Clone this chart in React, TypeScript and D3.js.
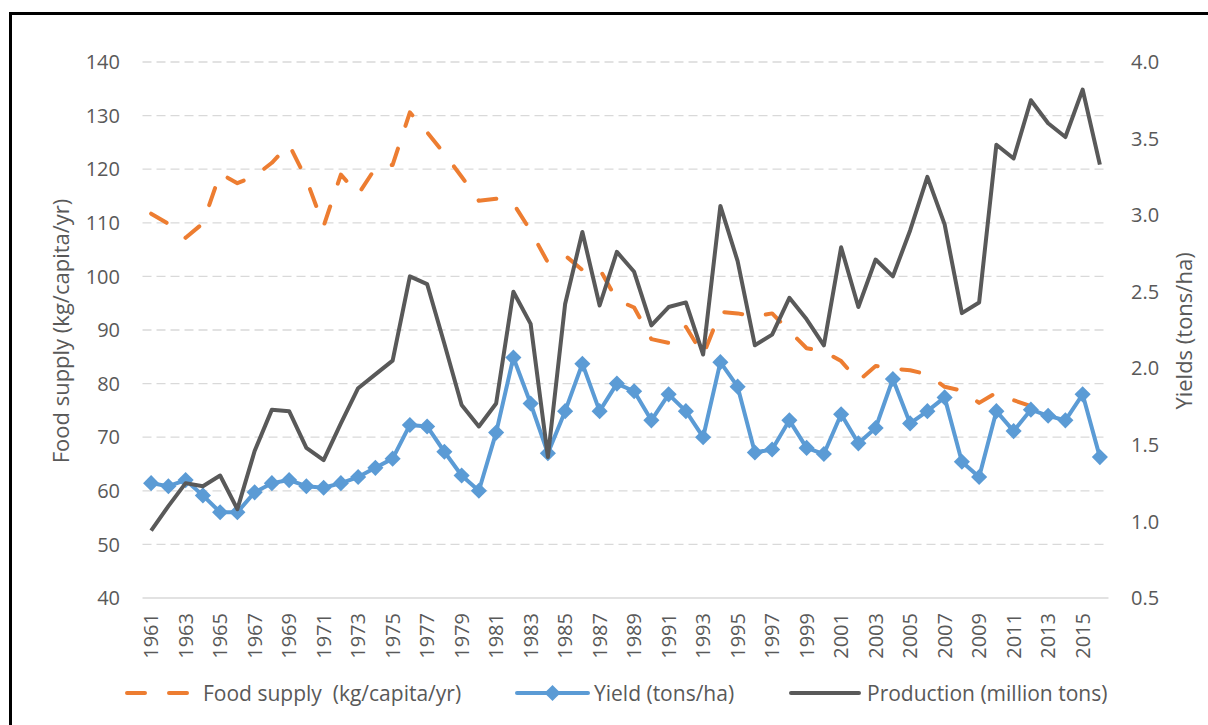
import React, { useRef, useEffect } from "react";
import * as d3 from "d3";

const years = [
  "1961", "1962", "1963", "1964", "1965", "1966", "1967", "1968", "1969", "1970",
  "1971", "1972", "1973", "1974", "1975", "1976", "1977", "1978", "1979", "1980",
  "1981", "1982", "1983", "1984", "1985", "1986", "1987", "1988", "1989", "1990",
  "1991", "1992", "1993", "1994", "1995", "1996", "1997", "1998", "1999", "2000",
  "2001", "2002", "2003", "2004", "2005", "2006", "2007", "2008", "2009", "2010",
  "2011", "2012", "2013", "2014", "2015", "2016",
];

// kg/capita/yr, left axis (reported up to 2013)
const foodSupply = [
  111.7, 109.8, 107.2, 109.9, 119.2, 117.4, 118.7, 121.2, 124.6, 118.1,
  109.4, 119.0, 115.3, 120.2, 120.8, 130.6, 126.9, 122.9, 118.6, 114.1,
  114.5, 113.6, 108.5, 102.6, 103.9, 101.2, 101.4, 95.6, 94.2, 88.3,
  87.6, 90.6, 85.3, 93.4, 93.1, 92.5, 93.1, 89.8, 86.6, 86.0,
  84.2, 80.5, 83.3, 82.8, 82.5, 81.7, 79.4, 78.7, 76.4, 78.3,
  76.9, 75.8, 76.2,
];

// tons/ha, right axis
const yieldTons = [
  1.25, 1.23, 1.27, 1.17, 1.06, 1.06, 1.19, 1.25, 1.27, 1.23,
  1.22, 1.25, 1.29, 1.35, 1.41, 1.63, 1.62, 1.455, 1.30, 1.20,
  1.58, 2.07, 1.77, 1.445, 1.72, 2.03, 1.72, 1.90, 1.85, 1.66,
  1.83, 1.72, 1.55, 2.04, 1.88, 1.45, 1.47, 1.66, 1.48, 1.44,
  1.70, 1.51, 1.61, 1.93, 1.64, 1.72, 1.81, 1.39, 1.29, 1.72,
  1.59, 1.73, 1.69, 1.66, 1.83, 1.42,
];

// million tons, right axis
const production = [
  0.94, 1.10, 1.25, 1.23, 1.30, 1.08, 1.46, 1.73, 1.72, 1.48,
  1.40, 1.64, 1.87, 1.96, 2.05, 2.60, 2.55, 2.16, 1.76, 1.62,
  1.77, 2.50, 2.29, 1.42, 2.42, 2.89, 2.41, 2.76, 2.63, 2.28,
  2.40, 2.43, 2.09, 3.06, 2.70, 2.15, 2.22, 2.46, 2.32, 2.15,
  2.79, 2.40, 2.71, 2.60, 2.90, 3.25, 2.94, 2.36, 2.43, 3.46,
  3.37, 3.75, 3.60, 3.51, 3.82, 3.33,
];

const leftTicks = [40, 50, 60, 70, 80, 90, 100, 110, 120, 130, 140];
const rightTicks = [0.5, 1.0, 1.5, 2.0, 2.5, 3.0, 3.5, 4.0];

const App = () => {
  const ref = useRef<SVGSVGElement>(null);

  useEffect(() => {
    const svg = d3.select(ref.current);
    svg.selectAll("*").remove();

    const width = 1208;
    const height = 725;
    const left = 142.5;
    const right = 1108.5;
    const top = 62;
    const bottom = 598;
    const textColor = "#595959";
    const font = "'Open Sans', sans-serif";

    svg.attr("width", width).attr("height", height);

    svg.append("rect")
      .attr("x", 10.5)
      .attr("y", 13.5)
      .attr("width", 1400)
      .attr("height", 900)
      .attr("fill", "white")
      .attr("stroke", "#000")
      .attr("stroke-width", 3);

    const x = d3.scalePoint().domain(years).range([left, right]).padding(0.5);
    const yLeft = d3.scaleLinear().domain([40, 140]).range([bottom, top]);
    const yRight = d3.scaleLinear().domain([0.5, 4.0]).range([bottom, top]);

    // gridlines
    svg.append("g")
      .selectAll("line")
      .data(leftTicks.filter((d) => d > 40))
      .enter()
      .append("line")
      .attr("x1", left)
      .attr("x2", right)
      .attr("y1", (d) => yLeft(d))
      .attr("y2", (d) => yLeft(d))
      .attr("stroke", "#D9D9D9")
      .attr("stroke-width", 1.3)
      .attr("stroke-dasharray", "9 5");

    svg.append("line")
      .attr("x1", left)
      .attr("x2", right)
      .attr("y1", yLeft(40))
      .attr("y2", yLeft(40))
      .attr("stroke", "#D9D9D9")
      .attr("stroke-width", 1.3);

    // left tick labels
    svg.append("g")
      .selectAll("text")
      .data(leftTicks)
      .enter()
      .append("text")
      .attr("x", 120)
      .attr("y", (d) => yLeft(d))
      .attr("dy", "0.36em")
      .attr("text-anchor", "end")
      .attr("font-family", font)
      .attr("font-size", "20px")
      .attr("fill", textColor)
      .text((d) => d);

    // right tick labels
    svg.append("g")
      .selectAll("text")
      .data(rightTicks)
      .enter()
      .append("text")
      .attr("x", 1131)
      .attr("y", (d) => yRight(d))
      .attr("dy", "0.36em")
      .attr("text-anchor", "start")
      .attr("font-family", font)
      .attr("font-size", "20px")
      .attr("fill", textColor)
      .text((d) => d.toFixed(1));

    // year labels, every other year
    svg.append("g")
      .selectAll("text")
      .data(years.filter((_, i) => i % 2 === 0))
      .enter()
      .append("text")
      .attr("transform", (d) => `translate(${x(d)}, 613) rotate(-90)`)
      .attr("dy", "0.36em")
      .attr("text-anchor", "end")
      .attr("font-family", font)
      .attr("font-size", "20px")
      .attr("fill", textColor)
      .text((d) => d);

    // axis titles
    svg.append("text")
      .attr("transform", "translate(61, 331) rotate(-90)")
      .attr("dy", "0.36em")
      .attr("text-anchor", "middle")
      .attr("font-family", font)
      .attr("font-size", "22px")
      .attr("fill", textColor)
      .text("Food supply (kg/capita/yr)");

    svg.append("text")
      .attr("transform", "translate(1184, 331) rotate(-90)")
      .attr("dy", "0.36em")
      .attr("text-anchor", "middle")
      .attr("font-family", font)
      .attr("font-size", "22px")
      .attr("fill", textColor)
      .text("Yields (tons/ha)");

    // series
    const foodLine = d3.line<number>()
      .x((_, i) => x(years[i]) as number)
      .y((d) => yLeft(d));

    const rightLine = d3.line<number>()
      .x((_, i) => x(years[i]) as number)
      .y((d) => yRight(d));

    svg.append("path")
      .datum(foodSupply)
      .attr("d", foodLine)
      .attr("fill", "none")
      .attr("stroke", "#ED7D31")
      .attr("stroke-width", 4)
      .attr("stroke-linecap", "round")
      .attr("stroke-linejoin", "round")
      .attr("stroke-dasharray", "18 24");

    svg.append("path")
      .datum(yieldTons)
      .attr("d", rightLine)
      .attr("fill", "none")
      .attr("stroke", "#5B9BD5")
      .attr("stroke-width", 4)
      .attr("stroke-linejoin", "round");

    const diamond = d3.symbol().type(d3.symbolSquare).size(130);

    svg.append("g")
      .selectAll("path")
      .data(yieldTons)
      .enter()
      .append("path")
      .attr("d", diamond)
      .attr("transform", (d, i) => `translate(${x(years[i])}, ${yRight(d)}) rotate(45)`)
      .attr("fill", "#5B9BD5");

    svg.append("path")
      .datum(production)
      .attr("d", rightLine)
      .attr("fill", "none")
      .attr("stroke", "#595959")
      .attr("stroke-width", 4)
      .attr("stroke-linejoin", "round");

    // legend
    const ly = 693;
    const legend = svg.append("g");

    legend.append("line")
      .attr("x1", 127).attr("x2", 189)
      .attr("y1", ly).attr("y2", ly)
      .attr("stroke", "#ED7D31")
      .attr("stroke-width", 4)
      .attr("stroke-linecap", "round")
      .attr("stroke-dasharray", "18 24");

    legend.append("line")
      .attr("x1", 517).attr("x2", 588)
      .attr("y1", ly).attr("y2", ly)
      .attr("stroke", "#5B9BD5")
      .attr("stroke-width", 4)
      .attr("stroke-linecap", "round");

    legend.append("path")
      .attr("d", diamond)
      .attr("transform", `translate(552.5, ${ly}) rotate(45)`)
      .attr("fill", "#5B9BD5");

    legend.append("line")
      .attr("x1", 791).attr("x2", 859)
      .attr("y1", ly).attr("y2", ly)
      .attr("stroke", "#595959")
      .attr("stroke-width", 4)
      .attr("stroke-linecap", "round");

    const labels = [
      { x: 203, text: "Food supply  (kg/capita/yr)" },
      { x: 594, text: "Yield (tons/ha)" },
      { x: 867, text: "Production (million tons)" },
    ];

    legend.selectAll("text")
      .data(labels)
      .enter()
      .append("text")
      .attr("x", (d) => d.x)
      .attr("y", ly)
      .attr("dy", "0.36em")
      .attr("font-family", font)
      .attr("font-size", "21px")
      .attr("fill", textColor)
      .style("white-space", "pre")
      .text((d) => d.text);
  }, []);

  return (
    <svg
      ref={ref}
      style={{ position: "absolute", left: 0, top: 0, display: "block" }}
    ></svg>
  );
};

export default App;
